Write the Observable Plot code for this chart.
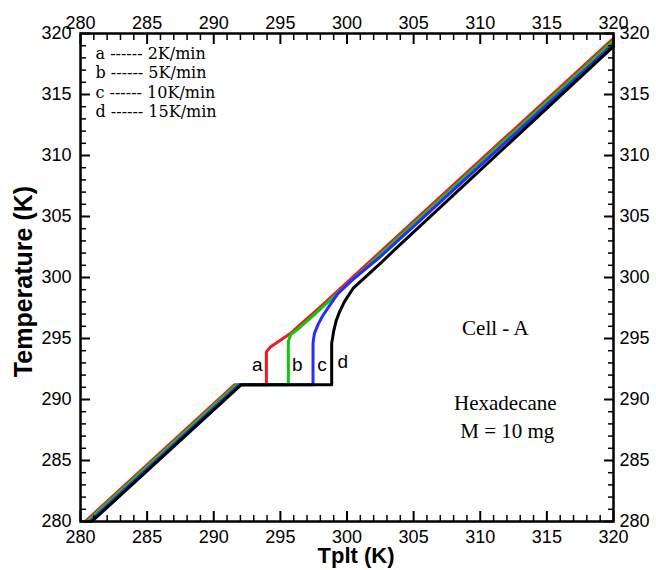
<!DOCTYPE html>
<html>
<head>
<meta charset="utf-8">
<script src="https://cdn.jsdelivr.net/npm/d3@7"></script>
<script src="https://cdn.jsdelivr.net/npm/@observablehq/plot@0.6"></script>
<style>
  html, body { margin: 0; padding: 0; background: #fff; }
  #chart svg { display: block; }
</style>
</head>
<body>
<div id="chart"></div>
<script>
// ---- Data ----
const seriesKeys = ["a", "b", "c", "d"];
const seriesColors = ["#ee1c1c", "#10c810", "#2b2bff", "#000000"];
const legendLabels = ["a ------ 2K/min", "b ------ 5K/min", "c ------ 10K/min", "d ------ 15K/min"];

// series a (2 K/min)
const tpltA = [280.35, 291.55, 293.95, 293.95, 294.25, 295.75, 296.3, 297.9, 320];
const tempA = [280, 291.2, 291.2, 293.9, 294.3, 295.4, 295.95, 297.5, 319.6];
// series b (5 K/min)
const tpltB = [280.5, 291.7, 295.6, 295.6, 295.8, 296.3, 297.2, 320];
const tempB = [280, 291.2, 291.2, 294.8, 295.35, 295.75, 296.6, 319.4];
// series c (10 K/min)
const tpltC = [280.7, 291.9, 297.45, 297.45, 297.55, 297.85, 298.2, 298.6, 299.3, 300.3, 301.5, 302.5, 303.5, 320];
const tempC = [280, 291.2, 291.2, 294.6, 295.4, 296.2, 296.9, 297.55, 298.65, 299.7, 300.8, 301.7, 302.7, 319.15];
// series d (15 K/min)
const tpltD = [280.85, 292.05, 298.85, 298.85, 299.0, 299.2, 299.45, 299.8, 300.45, 301.5, 302.5, 303.6, 320];
const tempD = [280, 291.2, 291.2, 294.6, 295.6, 296.5, 297.2, 298.0, 299.1, 300.15, 301.15, 302.3, 318.95];

const majorTicks = [280, 285, 290, 295, 300, 305, 310, 315, 320];
const minorTicks = [281,282,283,284,286,287,288,289,291,292,293,294,296,297,298,299,
                    301,302,303,304,306,307,308,309,311,312,313,314,316,317,318,319];

const annotations = ["Cell - A", "Hexadecane", "M = 10 mg"];
const xTitle = "Tplt (K)";
const yTitle = "Temperature (K)";

// ---- Build tables ----
const seriesX = [tpltA, tpltB, tpltC, tpltD];
const seriesY = [tempA, tempB, tempC, tempD];
const rows = [];
seriesKeys.forEach((k, s) => {
  seriesX[s].forEach((x, i) => rows.push({key: k, tplt: x, temp: seriesY[s][i]}));
});
// label anchor = start of each vertical rise (third point of each series)
const riseRows = seriesKeys.map((k, s) => ({key: k, tplt: seriesX[s][2], temp: seriesY[s][2]}));

const sans = "'Liberation Sans', Arial, sans-serif";
const serif = "'Liberation Serif', 'Times New Roman', serif";

const MAJ = 10, MIN = 6;
const tickAxes = [];
// inward ticks: outward tick of given length shifted back inside the frame
tickAxes.push(Plot.axisX(majorTicks, {anchor: "bottom", tickSize: MAJ, dy: -MAJ, strokeWidth: 2, fill: "none", label: null}));
tickAxes.push(Plot.axisX(minorTicks, {anchor: "bottom", tickSize: MIN, dy: -MIN, strokeWidth: 1.5, fill: "none", label: null}));
tickAxes.push(Plot.axisX(majorTicks, {anchor: "top", tickSize: MAJ, dy: MAJ, strokeWidth: 2, fill: "none", label: null}));
tickAxes.push(Plot.axisX(minorTicks, {anchor: "top", tickSize: MIN, dy: MIN, strokeWidth: 1.5, fill: "none", label: null}));
tickAxes.push(Plot.axisY(majorTicks, {anchor: "left", tickSize: MAJ, dx: MAJ, strokeWidth: 2, fill: "none", label: null}));
tickAxes.push(Plot.axisY(minorTicks, {anchor: "left", tickSize: MIN, dx: MIN, strokeWidth: 1.5, fill: "none", label: null}));
tickAxes.push(Plot.axisY(majorTicks, {anchor: "right", tickSize: MAJ, dx: -MAJ, strokeWidth: 2, fill: "none", label: null}));
tickAxes.push(Plot.axisY(minorTicks, {anchor: "right", tickSize: MIN, dx: -MIN, strokeWidth: 1.5, fill: "none", label: null}));
// tick labels
tickAxes.push(Plot.axisX(majorTicks, {anchor: "bottom", tickSize: 0, tickPadding: 9, fontSize: 18, label: null}));
tickAxes.push(Plot.axisX(majorTicks, {anchor: "top", tickSize: 0, tickPadding: 5, fontSize: 18, label: null}));
tickAxes.push(Plot.axisY(majorTicks, {anchor: "left", tickSize: 0, tickPadding: 9, fontSize: 18, label: null}));
tickAxes.push(Plot.axisY(majorTicks, {anchor: "right", tickSize: 0, tickPadding: 6, fontSize: 18, label: null}));

const chart = Plot.plot({
  width: 656,
  height: 570,
  marginLeft: 80,
  marginRight: 43,
  marginTop: 33,
  marginBottom: 49,
  style: {fontFamily: sans, background: "#fff", color: "#000"},
  x: {domain: [280, 320]},
  y: {domain: [280, 320]},
  color: {domain: seriesKeys, range: seriesColors},
  marks: [
    Plot.line(rows, {x: "tplt", y: "temp", z: "key", stroke: "key", strokeWidth: 3}),
    Plot.frame({stroke: "#000", strokeWidth: 2.5}),
    ...tickAxes,
    // line labels a, b, c, d
    Plot.text(riseRows.filter(d => d.key === "a"), {x: "tplt", y: "temp", text: "key", dx: -9, dy: -20, fontSize: 19, fontFamily: sans}),
    Plot.text(riseRows.filter(d => d.key === "b" || d.key === "c"), {x: "tplt", y: "temp", text: "key", dx: 9, dy: -20, fontSize: 19, fontFamily: sans}),
    Plot.text(riseRows.filter(d => d.key === "d"), {x: "tplt", y: "temp", text: "key", dx: 11, dy: -23, fontSize: 19, fontFamily: sans}),
    // legend
    ...legendLabels.map((t, i) => Plot.text([t], {frameAnchor: "top-left", textAnchor: "start", lineAnchor: "middle",
      dx: 15, dy: [20, 39, 59, 78][i], fontSize: 16, fontFamily: "'DejaVu Serif', serif", letterSpacing: 1})),
    // annotations
    Plot.text([annotations[0]], {x: 311.13, y: 295.82, fontSize: 21, fontFamily: serif}),
    Plot.text([annotations[1]], {x: 311.88, y: 289.67, fontSize: 21, fontFamily: serif}),
    Plot.text([annotations[2]], {x: 312.03, y: 287.38, fontSize: 21, fontFamily: serif}),
    // axis titles
    Plot.text([xTitle], {frameAnchor: "bottom", lineAnchor: "middle", dx: 9, dy: 34, fontSize: 22, fontWeight: "bold", fontFamily: sans}),
    Plot.text([yTitle], {frameAnchor: "left", lineAnchor: "middle", textAnchor: "middle", rotate: -90, dx: -57, dy: 4, fontSize: 25, fontWeight: "bold", fontFamily: sans})
  ]
});
document.getElementById("chart").appendChild(chart);
</script>
</body>
</html>
